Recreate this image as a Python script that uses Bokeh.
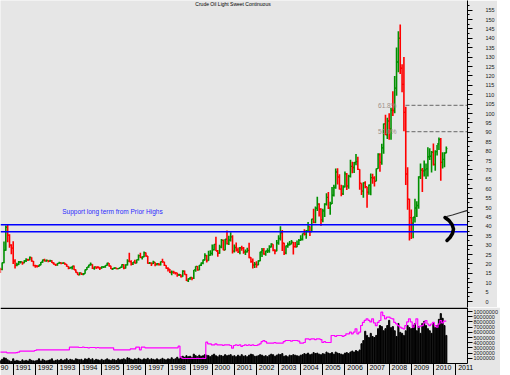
from bokeh.plotting import figure
from bokeh.layouts import column
from bokeh.models import (Range1d, LinearAxis, FixedTicker, Span, Label,
                          PolyAnnotation, ColumnDataSource)
from bokeh.embed import file_html
from bokeh.resources import INLINE

# ---------------- data (monthly, May 1990 .. Aug 2010) ----------------
START_YEAR, START_MONTH = 1990, 5

open_ = [
    18.4, 17.4, 17.1, 20.7, 27.3, 39.5, 35.2, 30.0,                      # 1990
    28.4, 21.5, 19.2, 19.6, 21.0, 21.1, 20.6, 21.7, 22.3, 22.2, 23.4, 21.5,  # 1991
    19.1, 18.9, 18.7, 19.4, 20.9, 22.1, 21.6, 21.9, 21.5, 21.7, 20.6, 19.9,  # 1992
    19.5, 20.3, 20.6, 20.4, 20.5, 19.9, 18.7, 17.7, 18.0, 18.8, 16.9, 15.4,  # 1993
    14.2, 15.2, 14.5, 14.8, 16.9, 18.3, 19.4, 19.7, 17.6, 18.4, 18.2, 18.1,  # 1994
    17.8, 18.4, 18.5, 19.2, 20.4, 18.9, 17.4, 17.6, 17.8, 17.5, 17.6, 18.2,  # 1995
    19.6, 17.7, 19.5, 21.5, 21.2, 19.8, 20.9, 20.4, 22.3, 24.4, 23.4, 23.8,  # 1996
    25.9, 24.2, 20.3, 20.4, 20.2, 20.9, 19.8, 20.1, 19.6, 21.2, 21.1, 19.2,  # 1997
    17.6, 17.2, 15.4, 15.6, 15.4, 15.2, 14.2, 14.2, 13.3, 16.1, 14.4, 11.2,  # 1998
    12.1, 12.8, 12.3, 16.8, 18.7, 16.8, 19.3, 20.5, 22.1, 24.5, 21.8, 24.6,  # 1999
    25.6, 27.6, 30.4, 26.9, 25.7, 29.0, 32.5, 27.4, 33.1, 30.8, 32.7, 34.4,  # 2000
    26.8, 28.7, 27.4, 26.3, 28.5, 28.4, 26.3, 26.4, 27.2, 23.4, 21.2, 19.4,  # 2001
    19.8, 19.5, 21.7, 26.3, 27.3, 25.3, 26.9, 27.0, 29.0, 30.5, 27.2, 26.9,  # 2002
    31.2, 33.5, 36.6, 31.0, 25.8, 29.6, 30.2, 30.5, 31.6, 29.2, 29.1, 30.4,  # 2003
    32.5, 33.1, 36.2, 35.8, 37.4, 39.9, 37.1, 43.8, 42.1, 49.6, 51.8, 49.1,  # 2004
    43.5, 48.2, 51.8, 55.4, 49.7, 52.0, 56.5, 60.6, 68.9, 66.2, 59.8, 57.3,  # 2005
    61.0, 67.9, 61.4, 66.6, 71.9, 71.3, 73.9, 74.4, 70.3, 62.9, 58.7, 63.1,  # 2006
    61.1, 58.1, 61.8, 65.9, 65.7, 64.0, 70.7, 78.2, 74.0, 81.7, 94.5, 88.7,  # 2007
    96.0, 91.8, 101.8, 101.6, 113.5, 127.4, 140.0, 124.1, 115.5, 100.6, 67.8, 54.4,  # 2008
    44.6, 41.7, 44.8, 49.7, 51.1, 66.3, 69.9, 69.5, 70.0, 70.6, 77.0, 77.3,  # 2009
    79.4, 72.9, 79.7, 83.8, 86.2, 74.0, 75.6, 79.0,                      # 2010
]
high = [
    19.3, 17.9, 20.8, 31.9, 40.4, 41.2, 35.8, 30.5,
    32.0, 22.5, 20.6, 21.5, 21.6, 21.2, 22.0, 23.0, 22.8, 24.0, 23.5, 21.6,
    19.6, 19.3, 19.6, 21.0, 22.3, 22.8, 22.3, 22.0, 22.2, 22.0, 20.9, 20.0,
    20.5, 21.2, 20.8, 20.8, 20.6, 20.0, 18.8, 18.5, 18.9, 19.2, 17.0, 15.5,
    15.6, 15.3, 15.1, 17.0, 18.4, 19.5, 20.7, 19.8, 18.6, 18.5, 18.8, 18.1,
    18.8, 18.7, 19.3, 20.6, 20.5, 19.0, 17.8, 18.2, 18.0, 17.8, 18.3, 19.8,
    19.8, 19.8, 22.5, 25.9, 21.9, 21.0, 22.2, 22.4, 25.0, 25.9, 24.0, 26.6,
    26.0, 24.2, 21.0, 20.7, 21.7, 20.9, 20.4, 20.5, 21.3, 22.7, 21.2, 19.3,
    18.2, 17.3, 16.5, 16.4, 15.6, 15.3, 14.8, 14.3, 16.6, 16.5, 14.6, 12.4,
    13.0, 12.9, 16.8, 18.8, 18.9, 19.4, 20.8, 22.4, 25.7, 24.7, 27.0, 27.2,
    30.3, 30.5, 34.4, 27.4, 30.2, 33.2, 33.0, 33.3, 37.8, 35.0, 36.8, 35.2,
    30.3, 31.4, 28.7, 29.0, 29.7, 29.0, 27.6, 28.6, 31.3, 23.6, 22.9, 21.0,
    21.4, 21.9, 26.5, 28.4, 28.4, 27.0, 28.3, 29.9, 31.0, 30.5, 27.8, 32.7,
    35.3, 40.0, 38.0, 31.2, 29.8, 31.4, 32.2, 32.7, 31.6, 31.7, 32.5, 33.2,
    35.2, 36.2, 38.4, 38.0, 42.3, 40.0, 44.0, 49.4, 50.5, 55.7, 52.3, 49.6,
    49.3, 52.2, 57.6, 58.3, 53.0, 60.9, 62.1, 70.8, 70.9, 67.7, 62.1, 61.8,
    69.2, 68.4, 67.4, 75.4, 74.4, 74.2, 78.4, 77.0, 70.4, 62.9, 63.4, 64.0,
    61.1, 62.3, 68.1, 67.9, 66.6, 70.8, 78.8, 78.8, 83.9, 94.7, 99.3, 97.8,
    100.1, 103.0, 111.8, 119.9, 135.1, 143.7, 147.3, 126.2, 130.0, 103.6, 71.4, 54.7,
    49.0, 45.0, 54.7, 53.3, 66.6, 73.4, 71.0, 75.0, 73.4, 82.0, 81.5, 80.0,
    84.0, 80.5, 83.2, 87.2, 87.0, 79.4, 79.4, 82.5,
]
low = [
    16.8, 15.1, 16.6, 20.4, 27.0, 31.5, 28.6, 25.1,
    20.0, 17.6, 18.8, 19.4, 20.2, 19.6, 20.4, 21.0, 21.5, 21.9, 21.2, 18.8,
    17.9, 18.1, 18.5, 19.3, 20.6, 21.3, 21.2, 20.9, 21.2, 20.5, 19.6, 18.9,
    19.0, 20.1, 19.8, 19.9, 19.6, 18.5, 17.1, 17.5, 17.0, 16.8, 15.3, 14.1,
    14.0, 14.1, 13.9, 14.7, 16.7, 17.9, 19.1, 17.3, 16.9, 17.3, 17.5, 16.7,
    17.4, 17.8, 17.9, 19.0, 18.6, 17.3, 16.8, 17.3, 17.2, 17.1, 17.5, 18.0,
    17.2, 17.5, 19.2, 20.9, 19.1, 19.4, 20.2, 20.3, 21.8, 23.1, 22.3, 23.5,
    23.8, 20.1, 19.9, 18.9, 19.9, 18.7, 19.1, 19.1, 19.2, 20.6, 18.9, 17.4,
    15.9, 15.2, 13.9, 14.8, 14.4, 13.1, 13.6, 12.8, 13.2, 14.2, 10.9, 10.4,
    11.6, 11.3, 12.0, 15.8, 16.4, 16.6, 18.9, 19.8, 21.8, 20.8, 21.7, 24.3,
    24.5, 27.1, 26.8, 23.8, 25.4, 28.3, 27.2, 27.3, 30.3, 30.0, 31.9, 25.5,
    26.0, 26.6, 25.8, 25.1, 27.0, 25.4, 24.8, 26.0, 23.0, 20.6, 17.5, 17.8,
    17.9, 19.3, 21.4, 23.7, 24.9, 24.4, 25.8, 25.9, 28.7, 26.7, 25.1, 26.7,
    30.2, 32.5, 26.9, 24.7, 25.1, 28.6, 29.8, 30.5, 25.0, 28.7, 28.8, 30.0,
    32.2, 32.5, 35.1, 33.4, 36.9, 34.8, 37.0, 41.6, 41.6, 48.2, 45.2, 40.3,
    42.1, 45.0, 51.0, 49.2, 46.2, 51.9, 55.9, 60.0, 62.3, 59.6, 56.0, 56.6,
    60.6, 59.3, 60.0, 66.0, 68.2, 68.3, 72.5, 69.9, 59.5, 56.6, 55.2, 60.2,
    49.9, 56.8, 56.5, 62.6, 61.2, 63.9, 70.6, 69.0, 72.8, 78.6, 88.5, 86.5,
    86.1, 86.1, 98.7, 100.1, 109.5, 122.0, 121.0, 111.3, 90.5, 62.0, 48.8, 32.4,
    33.2, 33.6, 42.0, 45.0, 49.3, 65.2, 58.3, 66.5, 65.1, 66.5, 75.2, 68.6,
    72.4, 69.5, 77.6, 80.6, 64.2, 70.8, 71.4, 78.8,
]
close = [
    17.4, 17.1, 20.7, 27.3, 39.5, 35.2, 30.0, 28.4,
    21.5, 19.2, 19.6, 21.0, 21.1, 20.6, 21.7, 22.3, 22.2, 23.4, 21.5, 19.1,
    18.9, 18.7, 19.4, 20.9, 22.1, 21.6, 21.9, 21.5, 21.7, 20.6, 19.9, 19.5,
    20.3, 20.6, 20.4, 20.5, 19.9, 18.7, 17.7, 18.0, 18.8, 16.9, 15.4, 14.2,
    15.2, 14.5, 14.8, 16.9, 18.3, 19.4, 19.7, 17.6, 18.4, 18.2, 18.1, 17.8,
    18.4, 18.5, 19.2, 20.4, 18.9, 17.4, 17.6, 17.8, 17.5, 17.6, 18.2, 19.6,
    17.7, 19.5, 21.5, 21.2, 19.8, 20.9, 20.4, 22.3, 24.4, 23.4, 23.8, 25.9,
    24.2, 20.3, 20.4, 20.2, 20.9, 19.8, 20.1, 19.6, 21.2, 21.1, 19.2, 17.6,
    17.2, 15.4, 15.6, 15.4, 15.2, 14.2, 14.2, 13.3, 16.1, 14.4, 11.2, 12.1,
    12.8, 12.3, 16.8, 18.7, 16.8, 19.3, 20.5, 22.1, 24.5, 21.8, 24.6, 25.6,
    27.6, 30.4, 26.9, 25.7, 29.0, 32.5, 27.4, 33.1, 30.8, 32.7, 34.4, 26.8,
    28.7, 27.4, 26.3, 28.5, 28.4, 26.3, 26.4, 27.2, 23.4, 21.2, 19.4, 19.8,
    19.5, 21.7, 26.3, 27.3, 25.3, 26.9, 27.0, 29.0, 30.5, 27.2, 26.9, 31.2,
    33.5, 36.6, 31.0, 25.8, 29.6, 30.2, 30.5, 31.6, 29.2, 29.1, 30.4, 32.5,
    33.1, 36.2, 35.8, 37.4, 39.9, 37.1, 43.8, 42.1, 49.6, 51.8, 49.1, 43.5,
    48.2, 51.8, 55.4, 49.7, 52.0, 56.5, 60.6, 68.9, 66.2, 59.8, 57.3, 61.0,
    67.9, 61.4, 66.6, 71.9, 71.3, 73.9, 74.4, 70.3, 62.9, 58.7, 63.1, 61.1,
    58.1, 61.8, 65.9, 65.7, 64.0, 70.7, 78.2, 74.0, 81.7, 94.5, 88.7, 96.0,
    91.8, 101.8, 101.6, 113.5, 127.4, 140.0, 124.1, 115.5, 100.6, 67.8, 54.4, 44.6,
    41.7, 44.8, 49.7, 51.1, 66.3, 69.9, 69.5, 70.0, 70.6, 77.0, 77.3, 79.4,
    72.9, 79.7, 83.8, 86.2, 74.0, 75.6, 79.0, 81.3,
]
# volume and open interest, millions of contracts
volume = [
    0.6, 0.5, 0.8, 1.1, 1.0, 0.7, 0.5, 0.4,
    0.9, 0.5, 0.6, 0.5, 0.4, 0.7, 0.5, 0.6, 0.5, 0.8, 0.6, 0.5,
    0.5, 0.6, 0.9, 0.5, 0.8, 0.6, 0.5, 0.6, 0.7, 0.9, 0.5, 0.6,
    0.7, 0.6, 0.8, 0.6, 0.7, 0.9, 0.6, 0.8, 0.7, 0.6, 0.9, 0.8,
    0.7, 0.8, 0.6, 0.9, 0.8, 1.0, 0.7, 0.9, 0.6, 0.8, 0.7, 0.6,
    0.8, 0.6, 0.7, 0.9, 0.7, 0.6, 0.8, 0.7, 0.6, 0.9, 0.7, 0.8,
    0.9, 0.7, 1.1, 1.0, 0.8, 0.7, 0.9, 0.8, 1.0, 0.8, 0.7, 0.9,
    0.8, 1.0, 0.7, 0.9, 0.8, 0.7, 0.9, 0.7, 0.8, 1.0, 0.8, 0.7,
    0.9, 0.8, 1.1, 0.8, 0.9, 1.2, 0.9, 1.3, 1.4, 1.2, 1.5, 1.3,
    1.4, 1.2, 1.8, 1.5, 1.3, 1.6, 1.4, 1.5, 1.7, 1.6, 1.5, 1.3,
    1.6, 1.8, 1.5, 1.3, 1.6, 1.5, 1.4, 1.7, 1.5, 1.6, 1.7, 1.4,
    1.5, 1.3, 1.6, 1.4, 1.7, 1.4, 1.5, 1.3, 1.6, 1.8, 1.7, 1.4,
    1.4, 1.5, 1.7, 1.6, 1.4, 1.5, 1.3, 1.6, 1.8, 1.7, 1.4, 1.6,
    1.8, 1.7, 1.9, 1.4, 1.5, 1.3, 1.6, 1.5, 1.7, 1.6, 1.5, 1.4,
    1.6, 1.7, 1.9, 1.8, 2.0, 1.7, 1.8, 2.1, 1.9, 2.0, 1.8, 1.7,
    1.9, 1.8, 2.2, 2.0, 1.9, 2.1, 1.8, 2.2, 2.0, 1.9, 1.8, 1.7,
    2.0, 2.1, 1.9, 2.2, 2.4, 2.2, 2.5, 2.3, 2.6, 3.8, 4.4, 6.2,
    5.4, 5.0, 5.8, 5.2, 5.0, 5.4, 6.7, 7.3, 7.1, 6.3, 6.7, 7.3,
    8.3, 6.9, 7.1, 6.3, 5.2, 7.7, 6.0, 5.8, 5.4, 6.3, 7.3, 6.9,
    6.7, 7.3, 7.7, 6.3, 7.1, 5.8, 7.7, 8.1, 7.3, 6.7, 6.3, 5.8,
    7.7, 6.9, 7.3, 8.5, 9.6, 8.7, 7.3, 5.4,
]
open_interest = [
    2.17, 2.17, 2.17, 2.17, 2.17, 2.06, 2.06, 2.06,
    2.06, 2.06, 2.10, 2.20, 2.37, 2.37, 2.37, 2.37, 2.37, 2.37, 2.37, 2.37,
    2.50, 2.63, 2.63, 2.63, 2.63, 2.63, 2.63, 2.63, 2.63, 2.63, 2.63, 2.63,
    2.63, 2.63, 2.63, 2.63, 2.63, 2.63, 2.63, 3.13, 3.13, 3.13, 3.13, 3.13,
    3.08, 3.08, 3.13, 3.08, 3.08, 3.02, 3.08, 3.08, 3.08, 3.02, 3.08, 3.02,
    3.02, 3.02, 3.02, 3.02, 3.02, 3.02, 3.02, 2.63, 2.63, 2.63, 2.63, 2.63,
    2.63, 2.63, 2.63, 2.63, 2.80, 2.80, 2.80, 3.13, 3.13, 2.63, 3.13, 3.13,
    3.02, 3.02, 3.02, 3.02, 3.02, 3.02, 3.02, 3.02, 3.02, 3.02, 3.02, 3.02,
    3.02, 3.02, 3.02, 3.02, 3.02, 3.02, 3.33, 1.21, 0.96, 0.96, 0.96, 0.96,
    0.96, 1.00, 0.96, 0.96, 1.00, 0.96, 0.96, 1.00, 0.96, 4.10, 3.79, 3.79,
    3.60, 3.60, 3.79, 3.60, 3.60, 3.60, 3.50, 3.60, 3.60, 3.60, 3.46, 2.94,
    3.46, 3.60, 3.46, 3.60, 3.30, 3.46, 3.60, 3.46, 3.60, 3.46, 3.60, 3.46,
    3.46, 3.60, 3.79, 4.20, 4.42, 4.20, 3.90, 3.90, 3.90, 3.90, 4.04, 3.90,
    3.90, 3.90, 3.90, 4.20, 4.42, 4.42, 4.42, 4.30, 4.42, 4.42, 4.42, 4.30,
    3.90, 3.90, 4.04, 4.75, 4.75, 4.60, 4.75, 4.75, 4.60, 4.75, 4.75, 4.60,
    4.04, 4.20, 4.04, 4.04, 4.04, 5.38, 5.38, 5.20, 5.38, 5.38, 5.38, 5.20,
    5.38, 5.71, 5.71, 6.02, 5.71, 6.02, 6.67, 5.71, 6.02, 7.31, 7.90, 8.30,
    8.60, 8.30, 8.00, 8.60, 7.80, 7.30, 7.90, 8.27, 9.87, 9.20, 8.60, 8.90,
    8.90, 8.70, 8.60, 7.90, 7.63, 7.30, 6.98, 6.80, 6.67, 7.30, 8.00, 8.60,
    8.00, 6.98, 7.60, 8.60, 6.98, 7.20, 7.30, 7.80, 8.27, 7.60, 7.30, 7.60,
    7.90, 7.30, 6.98, 7.60, 8.27, 7.80, 8.13, 8.13,
]

# first year label is shown cut to "90" at the left edge in the reference
year_labels = ["90"] + [str(y) for y in range(1991, 2012)]
price_ticks = list(range(0, 160, 5))
volume_ticks = [1, 2, 3, 4, 5, 6, 7, 8, 9, 10]          # millions
support_levels = [40.8, 37.1]
fib_levels = [104.3, 90.4]
fib_labels = ["61.8%", "50.0%"]
title_text = "Crude Oil Light Sweet Continuous"
support_text = "Support long term from Prior Highs"

# ---------------- geometry ----------------
FONT = "Liberation Sans"
BG = "#e6e6e6"
PX_PER_MONTH = 1.843
X_LEFT = 12 - 12.7 / PX_PER_MONTH
FRAME_W = 467
X_RIGHT = X_LEFT + FRAME_W / PX_PER_MONTH
PX_PER_UNIT = 1.88
P_TOP = 301 / PX_PER_UNIT
P_BOTTOM = (301 - 307) / PX_PER_UNIT
V_PX = 5.2
V_TOP = 56 / V_PX

def kx(px):
    return X_LEFT + px / PX_PER_MONTH

def py(y):
    return P_TOP - y / PX_PER_UNIT

n = len(close)
k0 = (START_YEAR - 1990) * 12 + START_MONTH - 1
kk = [k0 + i for i in range(n)]
cols = ["#009000" if c >= o else "#ff0000" for o, c in zip(open_, close)]
src = ColumnDataSource(dict(k=kk, kl=[x - 0.6 for x in kk], kr=[x + 0.6 for x in kk],
                            o=open_, h=high, l=low, c=close, col=cols,
                            v=volume, oi=open_interest))

# ---------------- price panel ----------------
p = figure(frame_width=FRAME_W, frame_height=307, output_backend="svg", toolbar_location=None,
           x_range=Range1d(X_LEFT, X_RIGHT), y_range=Range1d(P_BOTTOM, P_TOP),
           x_axis_location=None, y_axis_location=None,
           min_border_left=0, min_border_top=0, min_border_bottom=0, min_border_right=29,
           background_fill_color=BG, border_fill_color=BG, outline_line_color=None)
p.grid.visible = False

yax = LinearAxis(ticker=FixedTicker(ticks=price_ticks,
                                    minor_ticks=[t + 2.5 for t in price_ticks]))
yax.major_tick_out = 5
yax.major_tick_in = 0
yax.minor_tick_out = 2
yax.minor_tick_in = 0
yax.major_label_standoff = 13
yax.major_label_text_font = FONT
yax.major_label_text_font_size = "5.5px"
yax.major_label_text_color = "#202020"
yax.axis_line_color = "black"
p.add_layout(yax, "right")

for lvl in support_levels:
    p.add_layout(Span(location=lvl, dimension="width", line_color="#0000ff", line_width=1.6))

for lvl, lab in zip(fib_levels, fib_labels):
    p.segment(x0=kx(405), y0=lvl, x1=X_RIGHT + 5, y1=lvl, line_color="#808080",
              line_width=1.3, line_dash="4 2")
    p.add_layout(Label(x=kx(396), y=lvl, text=lab, text_align="right", text_baseline="middle",
                       text_font=FONT, text_font_size="6.5px", text_color="#a09088"))

p.segment(x0="k", y0="l", x1="k", y1="h", line_color="col", line_width=1.6, source=src)
p.segment(x0="kl", y0="o", x1="k", y1="o", line_color="col", line_width=1.4, source=src)
p.segment(x0="k", y0="c", x1="kr", y1="c", line_color="col", line_width=1.4, source=src)

p.add_layout(Label(x=kx(232.5), y=py(3.5), text=title_text, text_align="center",
                   text_baseline="middle", text_font=FONT, text_font_size="5px",
                   text_color="black"))
p.add_layout(Label(x=kx(61.7), y=py(210.7), text=support_text, text_align="left",
                   text_baseline="middle", text_font=FONT, text_font_size="6.5px",
                   text_color="#2a2aff"))

# hand-drawn marks
loop = [(510, 61), (496, 59), (488, 60), (484, 65), (483, 72), (483, 80), (487, 93),
        (493, 110), (498, 120), (503, 130), (510, 140)]
p.add_layout(PolyAnnotation(xs=[kx(a) for a, b in loop], ys=[py(b) for a, b in loop],
                            fill_color=None, fill_alpha=0, line_color="#303030",
                            line_alpha=1, line_width=1.2))
stroke = [(446, 216), (452, 214.5), (460, 212), (470, 209), (480, 205), (490, 200),
          (500, 196), (510, 193)]
stroke = stroke + stroke[::-1]
p.add_layout(PolyAnnotation(xs=[kx(a) for a, b in stroke], ys=[py(b) for a, b in stroke],
                            fill_color=None, fill_alpha=0, line_color="#303030",
                            line_alpha=1, line_width=1.2))
brk = [(444.5, 217), (448.5, 220), (451.5, 224), (453, 228.5), (452, 233), (449.5, 237),
       (446.5, 240)]
brk = brk + brk[::-1]
p.add_layout(PolyAnnotation(xs=[kx(a) for a, b in brk], ys=[py(b) for a, b in brk],
                            fill_color=None, fill_alpha=0, line_color="black",
                            line_alpha=1, line_width=3.5,
                            line_join="round", line_cap="round"))

# ---------------- volume panel ----------------
pv = figure(frame_width=FRAME_W, frame_height=56, output_backend="svg", toolbar_location=None,
            x_range=p.x_range, y_range=Range1d(0, V_TOP),
            x_axis_location=None, y_axis_location=None,
            min_border_left=0, min_border_top=0, min_border_bottom=12, min_border_right=29,
            background_fill_color=BG, border_fill_color=BG, outline_line_color=None)
pv.grid.visible = False
pv.vbar(x="k", top="v", width=0.6, color="black", source=src)
pv.step(x="k", y="oi", mode="center", line_color="#ff00ff", line_width=1.2, source=src)
pv.add_layout(Span(location=V_TOP - 0.8 / V_PX, dimension="width", line_color="black",
                   line_width=1.5))

vax = LinearAxis(ticker=FixedTicker(ticks=volume_ticks, minor_ticks=[]))
vax.major_label_overrides = {t: str(int(t * 1000000)) for t in volume_ticks}
vax.major_tick_out = 5
vax.major_tick_in = 0
vax.major_label_standoff = 1
vax.major_label_text_font = FONT
vax.major_label_text_font_size = "5.5px"
vax.major_label_text_color = "#202020"
vax.axis_line_color = "black"
pv.add_layout(vax, "right")

year_pos = [12 * i + 5.5 for i in range(len(year_labels))]
xax = LinearAxis(ticker=FixedTicker(ticks=year_pos, minor_ticks=[12 * i for i in range(len(year_labels))]))
xax.major_label_overrides = {pos: lab for pos, lab in zip(year_pos, year_labels)}
xax.major_tick_out = 0
xax.major_tick_in = 0
xax.minor_tick_out = 12
xax.minor_tick_in = 0
xax.minor_tick_line_color = "black"
xax.major_label_standoff = -11
xax.major_label_text_font = FONT
xax.major_label_text_font_size = "7px"
xax.major_label_text_color = "black"
xax.axis_line_color = "black"
pv.add_layout(xax, "below")

layout = column(p, pv, spacing=0)
open("out.html", "w").write(file_html(layout, INLINE))
